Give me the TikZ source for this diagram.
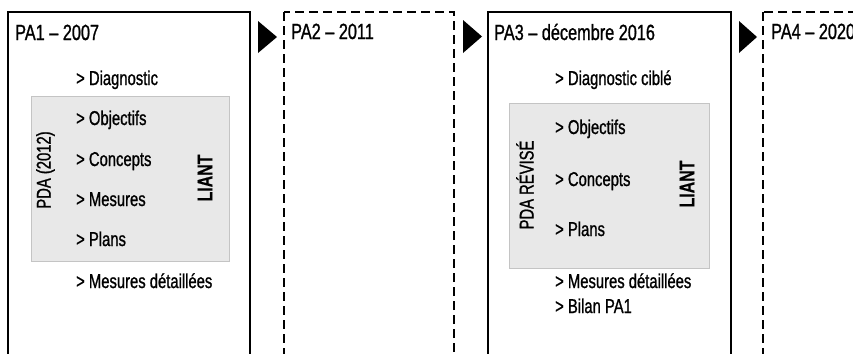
\documentclass[tikz,border=0pt]{standalone}
\usepackage{fontspec}
\setmainfont{Liberation Sans}[FakeStretch=0.74, FakeBold=1, BoldFeatures={FakeStretch=0.74, FakeBold=0.4}]
\definecolor{pdafill}{HTML}{E8E8E8}
\definecolor{pdaline}{HTML}{C4C4C4}
\tikzset{
  solidbox/.style={draw=black, line width=1.4bp},
  dashbox/.style={draw=black, line width=1.3bp, dash pattern=on 9bp off 5bp},
  pdabox/.style={fill=pdafill, draw=pdaline, line width=0.6bp},
  arrowtri/.style={fill=black, draw=none},
  title/.style={anchor=base west, inner sep=0pt, font=\fontsize{22bp}{25bp}\selectfont},
  item/.style={anchor=base west, inner sep=0pt, font=\fontsize{20bp}{23bp}\selectfont},
  vlabel/.style={rotate=90, inner sep=0pt, font=\fontsize{20bp}{23bp}\selectfont},
  vbold/.style={rotate=90, inner sep=0pt, font=\fontsize{21.5bp}{24bp}\selectfont\bfseries},
}
\begin{document}
\begin{tikzpicture}[x=1bp,y=-1bp]
\useasboundingbox (0,0) rectangle (853,353);
\clip (0,0) rectangle (853,353);
\fill[white] (0,0) rectangle (853,353);
% boxes
\draw[solidbox] (8,12) rectangle (250,370);
\draw[dashbox] (284,12) rectangle (454,370);
\draw[solidbox] (488,12) rectangle (731,370);
\draw[dashbox] (763,12) rectangle (900,370);
% arrow triangles
\fill[arrowtri] (258,21) -- (258,53) -- (277,37) -- cycle;
\fill[arrowtri] (463,20) -- (463,53) -- (482,36.5) -- cycle;
\fill[arrowtri] (739,21) -- (739,53) -- (757,37) -- cycle;
% gray PDA boxes
\draw[pdabox] (31,96) rectangle (229,261);
\draw[pdabox] (509,103) rectangle (709,268);
% titles
\node[title] (t1) at (15,40) {PA1 – 2007};
\node[title] (t2) at (291,39) {PA2 – 2011};
\node[title] (t3) at (494,40) {PA3 – décembre 2016};
\node[title] (t4) at (771,39) {PA4 – 2020};
% box 1 items
\node[item] (a1) at (76,85) {> Diagnostic};
\node[item] (a2) at (76,125) {> Objectifs};
\node[item] (a3) at (76,166) {> Concepts};
\node[item] (a4) at (76,206) {> Mesures};
\node[item] (a5) at (76,246) {> Plans};
\node[item] (a6) at (76,288) {> Mesures détaillées};
\node[vlabel] (p1) at (45.5,170) {PDA (2012)};
\node[vbold] (l1) at (205,178) {LIANT};
% box 3 items
\node[item] (b1) at (555,85) {> Diagnostic ciblé};
\node[item] (b2) at (555,134) {> Objectifs};
\node[item] (b3) at (555,186) {> Concepts};
\node[item] (b4) at (555,236) {> Plans};
\node[item] (b5) at (555,288) {> Mesures détaillées};
\node[item] (b6) at (555,313) {> Bilan PA1};
\node[vlabel] (p3) at (525,185) {PDA RÉVISÉ};
\node[vbold] (l3) at (687,184) {LIANT};
\end{tikzpicture}
\end{document}
